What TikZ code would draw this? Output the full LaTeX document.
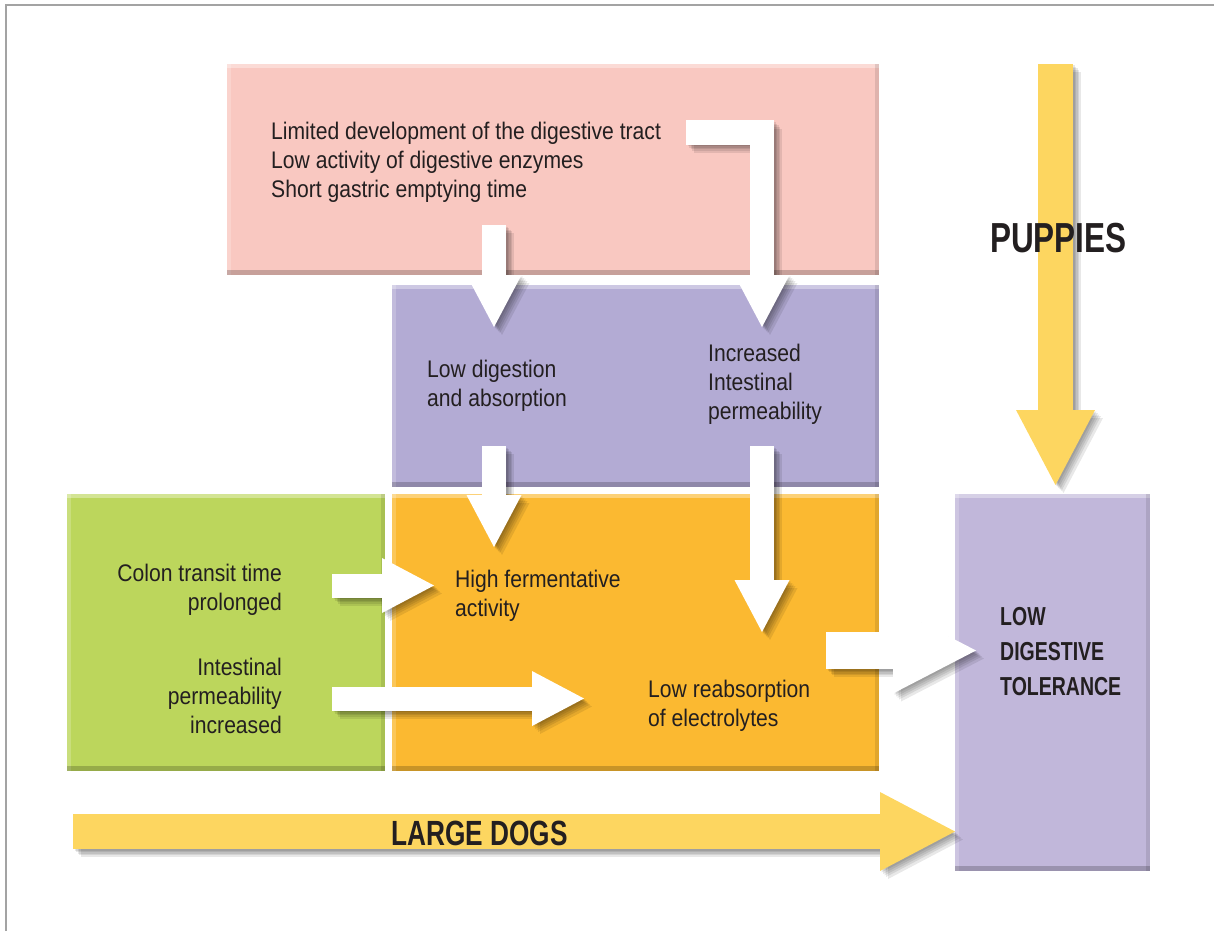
\documentclass[tikz,border=0pt]{standalone}
\usepackage{fontspec}
\setmainfont{Liberation Sans}[FakeStretch=0.88]
\newfontfamily\headfont{Liberation Sans}[FakeStretch=0.75]
\usetikzlibrary{arrows.meta}
\definecolor{pinkbox}{HTML}{F9C8C1}
\definecolor{lilacbox}{HTML}{B3ABD4}
\definecolor{orangebox}{HTML}{FBB931}
\definecolor{greenbox}{HTML}{BCD65C}
\definecolor{tolbox}{HTML}{C1B7DA}
\definecolor{yellowarrow}{HTML}{FDD660}
\definecolor{inktext}{HTML}{231F20}
\definecolor{framegrey}{HTML}{A3A3A3}
\newcommand\txtsize{\fontsize{24}{29}\selectfont}
% all block arrows, #1 = extra options (used for the shadow copies)
\newcommand\blockarrows[1]{%
  \draw[yellowbar,#1] (p0) -- (p1);
  \draw[yellowbar,#1] (l0) -- (l1);
  \draw[whitearrow,#1] (a0) -- (a1);
  \draw[whitearrow,#1] (b0) -- (b1);
  \draw[whitearrow,#1] (c0) -| (c1);
  \draw[whitearrow,#1] (d0) -- (d1);
  \draw[whitearrow,#1] (e0) -- (e1);
  \draw[whitearrow,#1] (f0) -- (f1);
  \draw[bigwhite,#1] (g0) -- (g1);
}
\tikzset{
  panel/.style={anchor=north west, inner sep=0pt, draw=none,
    path picture={
      \fill[white,opacity=.35] (path picture bounding box.north west) rectangle ([yshift=-4pt]path picture bounding box.north east);
      \fill[white,opacity=.2] (path picture bounding box.north west) rectangle ([xshift=4pt]path picture bounding box.south west);
      \fill[black,opacity=.1] (path picture bounding box.north east) rectangle ([xshift=-4pt]path picture bounding box.south east);
      \fill[black,opacity=.2] (path picture bounding box.south west) rectangle ([yshift=5pt]path picture bounding box.south east);
    }},
  whitearrow/.style={draw=white, line width=24pt, line join=miter,
    -{Triangle[width=55pt,length=52pt,line width=0pt]}},
  bigwhite/.style={draw=white, line width=37pt,
    -{Triangle[width=86pt,length=83pt,line width=0pt]}},
  yellowbar/.style={draw=yellowarrow, line width=35pt,
    -{Triangle[width=79pt,length=75pt,line width=0pt]}},
  txt/.style={font=\txtsize, text=inktext, inner sep=0pt, align=left, anchor=base west},
  txtr/.style={txt, align=right, anchor=base east},
  headtxt/.style={font=\headfont\bfseries, text=inktext, inner sep=0pt, align=left, anchor=base west}
}
\begin{document}
\begin{tikzpicture}[x=1pt,y=-1pt]
  \useasboundingbox (0,0) rectangle (1214,931);
  \draw[framegrey, line width=1.5pt] (6,931) -- (6,5) -- (1214,5);

  % boxes
  \node[panel, fill=pinkbox,   minimum width=652pt, minimum height=211pt] (immature) at (227,64)  {};
  \node[panel, fill=lilacbox,  minimum width=487pt, minimum height=202pt] (gut)      at (392,285) {};
  \node[panel, fill=greenbox,  minimum width=318pt, minimum height=277pt] (colon)    at (67,494)  {};
  \node[panel, fill=orangebox, minimum width=487pt, minimum height=277pt] (ferment)  at (392,494) {};
  \node[panel, fill=tolbox,    minimum width=195pt, minimum height=377pt] (tolerance) at (955,494) {};

  % arrow ends
  \coordinate (p0) at (1055.5,64);   \coordinate (p1) at (1055.5,485);
  \coordinate (l0) at (73,831.5);    \coordinate (l1) at (955,831.5);
  \coordinate (a0) at (494,225);     \coordinate (a1) at (494,327);
  \coordinate (b0) at (494,446);     \coordinate (b1) at (494,547);
  \coordinate (c0) at (686,132.5);   \coordinate (c1) at (762,327);
  \coordinate (d0) at (762,446);     \coordinate (d1) at (762,632);
  \coordinate (e0) at (332,585.5);   \coordinate (e1) at (434,585.5);
  \coordinate (f0) at (332,698.5);   \coordinate (f1) at (584,698.5);
  \coordinate (g0) at (826,650.5);   \coordinate (g1) at (976,650.5);

  % soft shadows, then the arrows
  \foreach \s in {1.5,3,4.5,6,8} {
    \begin{scope}[transform canvas={shift={(\s pt,-\s pt)}}]
      \blockarrows{draw=black,opacity=.09}
    \end{scope}
  }
  \blockarrows{}

  % texts (base = last line)
  \node[txt] (causes) at (271,197) {Limited development of the digestive tract\\Low activity of digestive enzymes\\Short gastric emptying time};
  \node[txt] (lowdig) at (427,406) {Low digestion\\and absorption};
  \node[txt] (incperm) at (708,419) {Increased\\Intestinal\\permeability};
  \node[txt] (highferm) at (455,616) {High fermentative\\activity};
  \node[txt] (lowreab) at (648,726) {Low reabsorption\\of electrolytes};
  \node[txtr] (transit) at (282,610) {Colon transit time\\prolonged};
  \node[txtr] (permup) at (282,733) {Intestinal\\permeability\\increased};
  \node[headtxt, font=\headfont\bfseries\fontsize{26}{35}\selectfont] (lowtol) at (1000,695) {LOW\\DIGESTIVE\\TOLERANCE};
  \node[headtxt, font=\headfont\bfseries\fontsize{42}{48}\selectfont] (puppies) at (990,252) {PUPPIES};
  \node[headtxt, font=\headfont\bfseries\fontsize{35}{40}\selectfont] (large) at (391,845) {LARGE DOGS};
\end{tikzpicture}
\end{document}
